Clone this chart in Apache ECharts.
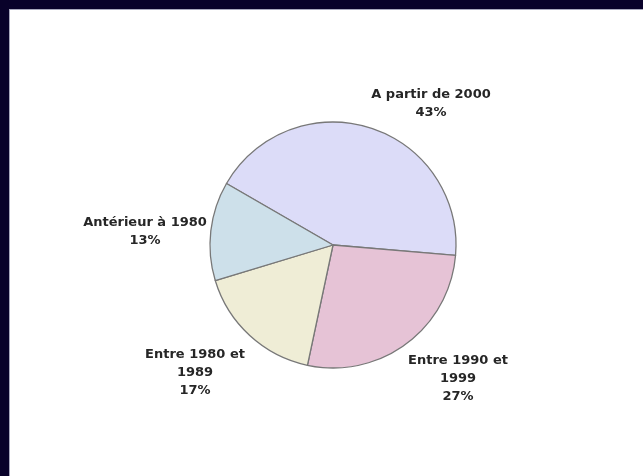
<!DOCTYPE html>
<html>
<head>
<meta charset="utf-8">
<script src="https://cdn.jsdelivr.net/npm/echarts@6/dist/echarts.min.js"></script>
<style>
html,body{margin:0;padding:0;background:#fff;}
#c{width:643px;height:476px;}
</style>
</head>
<body>
<div id="c"></div>
<script>
const categories = ["A partir de 2000", "Entre 1990 et 1999", "Entre 1980 et 1989", "Antérieur à 1980"];
const values = [43, 27, 17, 13];
const colors = ["#dcdcf8", "#e6c3d6", "#efedd6", "#cde0ea"];
const labelAnchors = [[431, 104], [458, 379], [195, 373], [145, 232]];

const chart = echarts.init(document.getElementById('c'), null, {renderer: 'canvas'});
chart.setOption({
  backgroundColor: '#ffffff',
  animation: false,
  graphic: [
    {type: 'rect', shape: {x: 0, y: 0, width: 643, height: 9}, style: {fill: '#09022a'}, z: 10},
    {type: 'rect', shape: {x: 0, y: 0, width: 9, height: 476}, style: {fill: '#09022a'}, z: 10},
    {type: 'rect', shape: {x: 9, y: 9, width: 634, height: 1}, style: {fill: '#a8a8bc'}, z: 10},
    {type: 'rect', shape: {x: 9, y: 9, width: 1, height: 467}, style: {fill: '#a8a8bc'}, z: 10}
  ],
  series: [{
    type: 'pie',
    center: [333, 245],
    radius: 123,
    startAngle: 150,
    clockwise: true,
    data: categories.map((n, i) => ({name: n, value: values[i], itemStyle: {color: colors[i]}})),
    itemStyle: {borderColor: '#787878', borderWidth: 1.3},
    emphasis: {disabled: true},
    labelLine: {show: false},
    label: {
      show: true,
      position: 'outside',
      formatter: p => p.name.replace(' et ', ' et\n') + '\n' + p.value + '%',
      fontFamily: 'DejaVu Sans',
      fontWeight: 'bold',
      fontSize: 13,
      lineHeight: 18,
      color: '#262626',
      align: 'center'
    },
    labelLayout: function (p) {
      const a = labelAnchors[p.dataIndex];
      return {x: a[0], y: a[1], align: 'center', verticalAlign: 'middle'};
    }
  }]
});
</script>
</body>
</html>
